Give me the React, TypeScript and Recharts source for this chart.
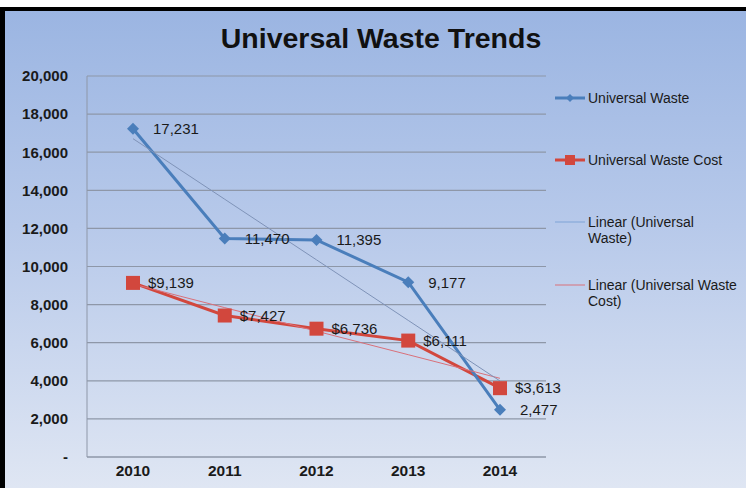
import React from 'react';
import { LineChart, Line, XAxis, YAxis, CartesianGrid, LabelList } from 'recharts';

const years = ['2010', '2011', '2012', '2013', '2014'];
const wasteValues = [17231, 11470, 11395, 9177, 2477];
const costValues = [9139, 7427, 6736, 6111, 3613];
// trend lines
const wasteTrend = [16710, 13530, 10350, 7170, 3990];
const costTrend = [9080, 7840, 6605, 5370, 4130];
const yTicks = [0, 2000, 4000, 6000, 8000, 10000, 12000, 14000, 16000, 18000, 20000];

const data = years.map((year, i) => ({
  year,
  waste: wasteValues[i],
  cost: costValues[i],
  wasteTrend: wasteTrend[i],
  costTrend: costTrend[i],
}));

const BLUE = '#4a7ebb';
const RED = '#d2473d';
const FONT = '"Liberation Sans", Arial, sans-serif';

const Diamond = (props: any) => {
  const { cx, cy } = props;
  if (cx == null || cy == null) return null;
  const r = 6;
  return <polygon points={`${cx},${cy - r} ${cx + r},${cy} ${cx},${cy + r} ${cx - r},${cy}`} fill={BLUE} />;
};

const Square = (props: any) => {
  const { cx, cy } = props;
  if (cx == null || cy == null) return null;
  return <rect x={cx - 7} y={cy - 7} width={14} height={14} fill={RED} />;
};

const legendItems = [
  { lines: ['Universal Waste'], color: BLUE, marker: 'diamond', top: 0 },
  { lines: ['Universal Waste Cost'], color: RED, marker: 'square', top: 62 },
  { lines: ['Linear (Universal', 'Waste)'], color: '#7fa3d6', marker: 'none', top: 124 },
  { lines: ['Linear (Universal Waste', 'Cost)'], color: '#d9707a', marker: 'none', top: 187 },
];

const ChartLegend = () => (
  <div style={{ position: 'absolute', left: 553, top: 90, width: 196, height: 230, fontFamily: FONT, fontSize: 14, color: '#1a1a1a' }}>
    {legendItems.map((item) => (
      <div key={item.lines[0] + item.top} style={{ position: 'absolute', top: item.top, left: 0, display: 'flex', alignItems: 'flex-start' }}>
        <svg width={34} height={16} style={{ flex: 'none' }}>
          <line x1={2} y1={8} x2={32} y2={8} stroke={item.color} strokeWidth={item.marker === 'none' ? 1 : 3} />
          {item.marker === 'diamond' && <polygon points="17,4 21,8 17,12 13,8" fill={item.color} />}
          {item.marker === 'square' && <rect x={12} y={3} width={10} height={10} fill={item.color} />}
        </svg>
        <div style={{ lineHeight: '16px', marginLeft: 1, whiteSpace: 'nowrap' }}>
          {item.lines.map((l) => (
            <div key={l}>{l}</div>
          ))}
        </div>
      </div>
    ))}
  </div>
);

const fmt = (v: number) => v.toLocaleString('en-US');

export default function App() {
  return (
    <div style={{ position: 'absolute', left: 0, top: 0, width: 746, height: 488, background: '#fff', overflow: 'hidden' }}>
      <div
        style={{
          position: 'absolute',
          left: 0,
          top: 7,
          width: 746,
          height: 481,
          boxSizing: 'border-box',
          borderTop: '4px solid #000',
          borderLeft: '5px solid #000',
          background: 'linear-gradient(180deg, #9bb5e2 0%, #b7c9ea 45%, #dfe6f3 100%)',
        }}
      />
      <div
        style={{
          position: 'absolute',
          left: 0,
          top: 22,
          width: 762,
          textAlign: 'center',
          fontFamily: FONT,
          fontWeight: 'bold',
          fontSize: 28.5,
          color: '#111',
        }}
      >
        Universal Waste Trends
      </div>
      <div style={{ position: 'absolute', left: 0, top: 0 }}>
        <LineChart width={746} height={488} data={data} margin={{ top: 76, right: 200, left: 0, bottom: 0 }}>
          <CartesianGrid horizontal vertical={false} stroke="#8e97a8" strokeWidth={1.2} />
          <XAxis
            dataKey="year"
            height={31}
            padding={{ left: 46, right: 46 }}
            tickLine={false}
            axisLine={{ stroke: '#8e97a8' }}
            tick={{ fontFamily: FONT, fontSize: 15.5, fontWeight: 'bold', fill: '#1a1a1a' }}
          />
          <YAxis
            width={87}
            domain={[0, 20000]}
            ticks={yTicks}
            interval={0}
            tickLine={false}
            axisLine={{ stroke: '#8e97a8' }}
            tickMargin={13}
            tickFormatter={(v: number) => (v === 0 ? '-' : fmt(v))}
            tick={{ fontFamily: FONT, fontSize: 15, fontWeight: 'bold', fill: '#1a1a1a' }}
          />
          <Line
            dataKey="cost"
            name="Universal Waste Cost"
            stroke={RED}
            strokeWidth={3}
            dot={<Square />}
            isAnimationActive={false}
          >
            <LabelList
              dataKey="cost"
              position="right"
              offset={15}
              formatter={(v: any) => `$${fmt(Number(v))}`}
              style={{ fontFamily: FONT, fontSize: 15, fill: '#1a1a1a' }}
            />
          </Line>
          <Line
            dataKey="waste"
            name="Universal Waste"
            stroke={BLUE}
            strokeWidth={3}
            dot={<Diamond />}
            isAnimationActive={false}
          >
            <LabelList
              dataKey="waste"
              position="right"
              offset={20}
              formatter={(v: any) => fmt(Number(v))}
              style={{ fontFamily: FONT, fontSize: 15, fill: '#1a1a1a' }}
            />
          </Line>
          <Line dataKey="costTrend" name="Linear (Universal Waste Cost)" stroke="#d9707a" strokeWidth={1} dot={false} isAnimationActive={false} />
          <Line dataKey="wasteTrend" name="Linear (Universal Waste)" stroke="#7f93b8" strokeWidth={1} dot={false} isAnimationActive={false} />
        </LineChart>
      </div>
      <ChartLegend />
    </div>
  );
}
